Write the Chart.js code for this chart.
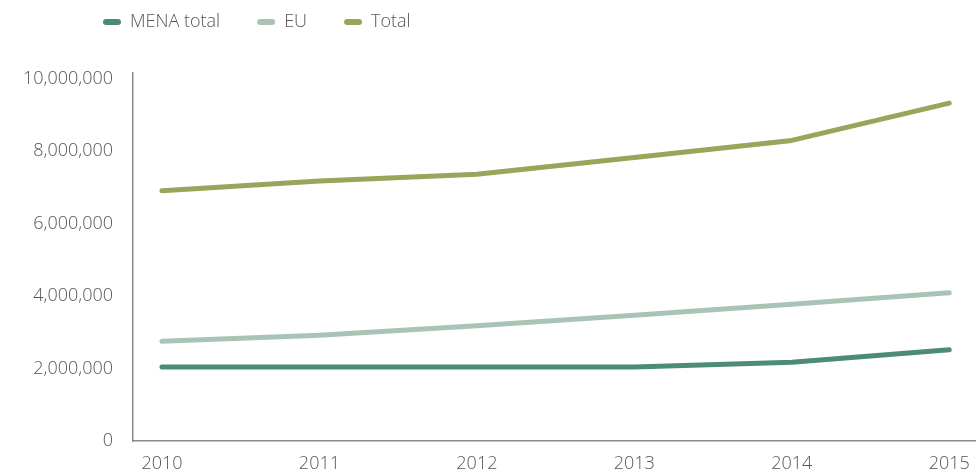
<!DOCTYPE html>
<html><head><meta charset="utf-8">
<script src="https://cdn.jsdelivr.net/npm/chart.js@4"></script>
<style>html,body{margin:0;padding:0;background:#fff}#wrap{width:976px;height:475px}</style>
</head><body><div id="wrap"><canvas id="c" width="976" height="475"></canvas></div>
<script>
const years = [2010, 2011, 2012, 2013, 2014, 2015];
const menaTotal = [2040000, 2040000, 2040000, 2040000, 2170000, 2520000];
const eu = [2750000, 2920000, 3180000, 3470000, 3770000, 4090000];
const total = [6900000, 7170000, 7360000, 7820000, 8290000, 9320000];
const yTicks = [0, 2000000, 4000000, 6000000, 8000000, 10000000];

const FONT = {family: "'Open Sans', sans-serif", size: 18, weight: 300};
const TXT = '#555555';

function pts(arr){ return years.map((y,i)=>({x:y, y:arr[i]})); }

const legendShift = {
  id:'legendShift',
  afterLayout(chart){
    const l = chart.legend; if(!l) return;
    const dx = 103 - (l.left + 37), dy = -32;
    l.left += dx; l.right += dx; l.top += dy; l.bottom += dy;
  }
};

new Chart(document.getElementById('c'), {
  type: 'line',
  data: {
    datasets: [
      {label:'MENA total', data: pts(menaTotal), borderColor:'#4c8c74', backgroundColor:'#4c8c74'},
      {label:'EU', data: pts(eu), borderColor:'#a9c4b5', backgroundColor:'#a9c4b5'},
      {label:'Total', data: pts(total), borderColor:'#98a55b', backgroundColor:'#98a55b'}
    ]
  },
  options: {
    responsive:false, animation:false,
    layout:{padding:{top:8, right:0, left:0, bottom:0}},
    elements:{
      line:{borderWidth:5, tension:0, borderCapStyle:'round', borderJoinStyle:'round'},
      point:{radius:0, hoverRadius:0}
    },
    plugins:{
      tooltip:{enabled:false},
      legend:{
        position:'top', align:'start',
        labels:{
          font: FONT, color: TXT, boxWidth:18, boxHeight:6, padding:37,
          useBorderRadius:true, borderRadius:3,
          generateLabels(chart){
            const d = Chart.defaults.plugins.legend.labels.generateLabels(chart);
            return d.map(o=>Object.assign(o,{lineWidth:0, strokeStyle:'rgba(0,0,0,0)', fontColor:TXT}));
          }
        }
      }
    },
    scales:{
      x:{
        type:'linear', min:2009.816, max:2015.17,
        grid:{display:false, drawTicks:false},
        border:{display:true, color:'#8a8a8a', width:1.5},
        afterBuildTicks(scale){ scale.ticks = years.map(v=>({value:v})); },
        afterFit(scale){ scale.height = 34; scale.paddingRight = 0; scale.paddingLeft = 0; },
        ticks:{font:FONT, color:TXT, padding:12, maxRotation:0, autoSkip:false,
          callback:(v)=>String(v)}
      },
      y:{
        min:0, max:10150000,
        grid:{display:false, drawTicks:false},
        border:{display:true, color:'#8a8a8a', width:1.5},
        afterFit(scale){ scale.width = 133; },
        afterBuildTicks(scale){ scale.ticks = yTicks.map(v=>({value:v})); },
        ticks:{font:FONT, color:TXT, padding:20,
          callback:(v)=>v.toLocaleString('en-US')}
      }
    }
  },
  plugins:[legendShift]
});
</script></body></html>
